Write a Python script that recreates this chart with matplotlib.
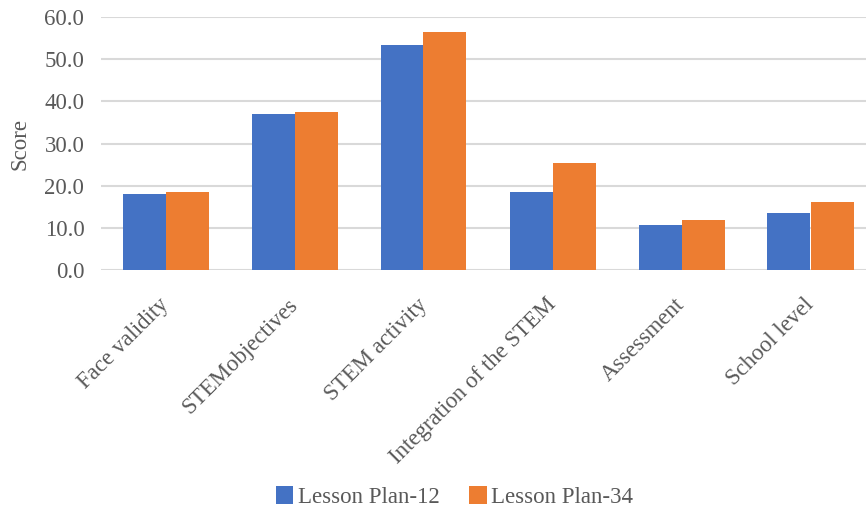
import numpy as np
import matplotlib.pyplot as plt
import matplotlib.transforms as mtransforms

categories = ['Face validity', 'STEMobjectives', 'STEM activity',
              'Integration of the STEM', 'Assessment', 'School level']
plan_12 = [18.0, 37.1, 53.4, 18.6, 10.7, 13.5]
plan_34 = [18.5, 37.5, 56.4, 25.3, 11.8, 16.1]
yticks = [0, 10, 20, 30, 40, 50, 60]

plt.rcParams['font.family'] = ['Liberation Serif', 'DejaVu Serif']
text_color = '#595959'

fig = plt.figure(figsize=(8.66, 5.17), dpi=100)
W, H = 866, 517
ax = fig.add_axes([101 / W, 1 - 270 / H, 774 / W, 253 / H])

x = np.arange(len(categories))
w = 1 / 3
ax.bar(x - w / 2, plan_12, w, color='#4472C4', label='Lesson Plan-12', zorder=3)
ax.bar(x + w / 2, plan_34, w, color='#ED7D31', label='Lesson Plan-34', zorder=3)

ax.set_xlim(-0.5, len(categories) - 0.5)
ax.set_ylim(0, 60)
ax.set_yticks(yticks)
ax.set_yticklabels(['%.1f' % v for v in yticks])
ax.yaxis.grid(True, color='#D9D9D9', linewidth=1.5, zorder=0)
for s in ax.spines.values():
    s.set_visible(False)
ax.tick_params(axis='both', length=0, labelsize=16.5, labelcolor=text_color)
ax.tick_params(axis='y', pad=12)
ax.tick_params(axis='x', pad=8)

ax.set_xticks(x)
ax.set_xticklabels(categories, rotation=45, ha='right', rotation_mode='anchor')
# nudge the slanted labels so their ends sit under the groups
shift = mtransforms.ScaledTranslation(-7 / 100, -13 / 100, fig.dpi_scale_trans)
for lbl in ax.get_xticklabels():
    lbl.set_transform(lbl.get_transform() + shift)

ax.set_ylabel('Score', fontsize=16.5, color=text_color, labelpad=10)

fig.legend(loc='center', bbox_to_anchor=(0.525, 1 - 497 / H), ncol=2,
           frameon=False, fontsize=16.5, handlelength=0.75, handleheight=0.8,
           handletextpad=0.2, columnspacing=1.3, labelcolor=text_color)

fig.savefig('out.png', dpi=100)
